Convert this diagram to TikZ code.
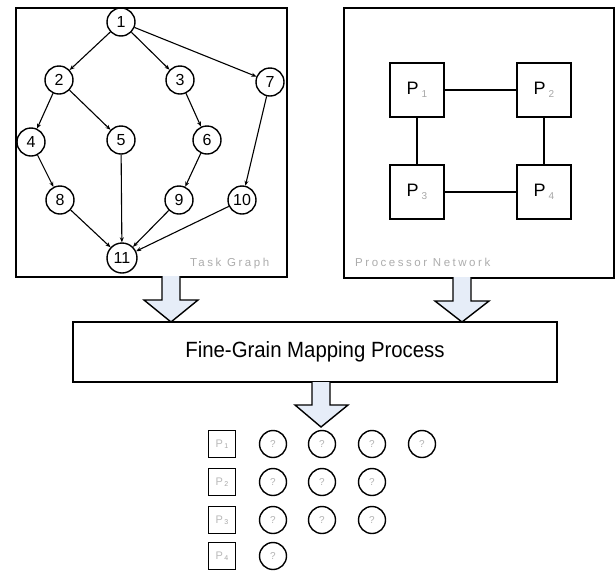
\documentclass[tikz,border=0pt]{standalone}
\usepackage{fontspec}
\setmainfont{Liberation Sans}
\newfontfamily\tracked[LetterSpace=22]{Liberation Sans}
\usetikzlibrary{arrows.meta}

\definecolor{flowfill}{RGB}{230,237,248}

% processor label: a "P" followed by a lowered grey index
% #1 = size of P, #2 = size of index, #3 = gap, #4 = drop, #5 = index
\newcommand{\proclbl}[5]{{\fontsize{#1}{#1}\selectfont P}\hspace{#3}\raisebox{-#4}{\fontsize{#2}{#2}\selectfont\textcolor{gray!70}{#5}}}

\begin{document}
\begin{tikzpicture}[x=1pt,y=-1pt,
  task/.style={circle,draw,line width=1.4pt,minimum size=28pt,inner sep=0pt,
    font=\fontsize{16}{16}\selectfont},
  dep/.style={line width=1.1pt,-{Stealth[length=5pt,width=4pt]}},
  panel/.style={draw,line width=1.6pt,anchor=north west,inner sep=0pt},
  proc/.style={draw,line width=1.6pt,minimum size=54pt,inner sep=0pt},
  link/.style={line width=1.4pt},
  caption/.style={text=gray!65,font=\tracked\fontsize{11.5}{11.5}\selectfont,
    anchor=base west,inner sep=0pt},
  flow/.style={draw,line width=1.4pt,fill=flowfill,line join=miter},
  slot/.style={circle,draw,line width=1.4pt,minimum size=27pt,inner sep=0pt,
    text=gray!60,font=\fontsize{10}{10}\selectfont},
  cpu/.style={draw,line width=1.4pt,minimum size=27pt,inner sep=0pt}
]
\useasboundingbox (0,0) rectangle (615,571);

% ---- panels ----
\node[panel,minimum width=271pt,minimum height=269pt] (tgbox) at (15,7) {};
\node[panel,minimum width=270pt,minimum height=270pt] (pnbox) at (343,7) {};
\node[draw,line width=1.6pt,minimum width=484pt,minimum height=60pt,inner sep=0pt,
  font=\fontsize{21}{21}\selectfont] (map) at (315,352)
  {\scalebox{0.97}[1.05]{Fine-Grain Mapping Process}};

% ---- task graph ----
\node[task] (n1)  at (121,22)  {1};
\node[task] (n2)  at (59,80)   {2};
\node[task] (n3)  at (180,80)  {3};
\node[task] (n7)  at (270,82)  {7};
\node[task] (n4)  at (31,142)  {4};
\node[task] (n5)  at (121,140) {5};
\node[task] (n6)  at (207,140) {6};
\node[task] (n8)  at (60,200)  {8};
\node[task] (n9)  at (179,200) {9};
\node[task] (n10) at (242,200) {10};
\node[task,minimum size=30pt] (n11) at (122,258) {11};

\draw[dep] (n1) -- (n2);
\draw[dep] (n1) -- (n3);
\draw[dep] (n1) -- (n7);
\draw[dep] (n2) -- (n4);
\draw[dep] (n2) -- (n5);
\draw[dep] (n3) -- (n6);
\draw[dep] (n4) -- (n8);
\draw[dep] (n5) -- (n11);
\draw[dep] (n6) -- (n9);
\draw[dep] (n7) -- (n10);
\draw[dep] (n8) -- (n11);
\draw[dep] (n9) -- (n11);
\draw[dep] (n10) -- (n11);

\node[caption] (tgcap) at (190,266) {Task Graph};

% ---- processor network ----
\node[proc] (p1) at (417,90)  {\proclbl{18}{10}{3pt}{3pt}{1}};
\node[proc] (p2) at (544,90)  {\proclbl{18}{10}{3pt}{3pt}{2}};
\node[proc] (p3) at (417,192) {\proclbl{18}{10}{3pt}{3pt}{3}};
\node[proc] (p4) at (544,192) {\proclbl{18}{10}{3pt}{3pt}{4}};
\draw[link] (p1) -- (p2);
\draw[link] (p3) -- (p4);
\draw[link] (p1) -- (p3);
\draw[link] (p2) -- (p4);

\node[caption] (pncap) at (355,266) {Processor Network};

% ---- block arrows ----
\draw[flow] (162,276) -- (162,300) -- (144,300) -- (171,322) -- (198,300)
  -- (180,300) -- (180,276);
\draw[flow] (453,277) -- (453,301) -- (435,301) -- (462,322) -- (489,301)
  -- (471,301) -- (471,277);
\draw[flow] (312,382) -- (312,405) -- (295,405) -- (321,427) -- (348,405)
  -- (330,405) -- (330,382);

% ---- resulting schedule ----
\node[cpu] (q1) at (222,444) {\textcolor{gray!55}{\proclbl{11}{7}{1.5pt}{1.5pt}{1}}};
\node[cpu] (q2) at (222,482) {\textcolor{gray!55}{\proclbl{11}{7}{1.5pt}{1.5pt}{2}}};
\node[cpu] (q3) at (222,520) {\textcolor{gray!55}{\proclbl{11}{7}{1.5pt}{1.5pt}{3}}};
\node[cpu] (q4) at (222,556) {\textcolor{gray!55}{\proclbl{11}{7}{1.5pt}{1.5pt}{4}}};

\node[slot] (s11) at (273,444) {?};
\node[slot] (s12) at (322,444) {?};
\node[slot] (s13) at (372,444) {?};
\node[slot] (s14) at (422,444) {?};
\node[slot] (s21) at (273,482) {?};
\node[slot] (s22) at (322,482) {?};
\node[slot] (s23) at (372,482) {?};
\node[slot] (s31) at (273,520) {?};
\node[slot] (s32) at (322,520) {?};
\node[slot] (s33) at (372,520) {?};
\node[slot] (s41) at (273,556) {?};
\end{tikzpicture}
\end{document}
